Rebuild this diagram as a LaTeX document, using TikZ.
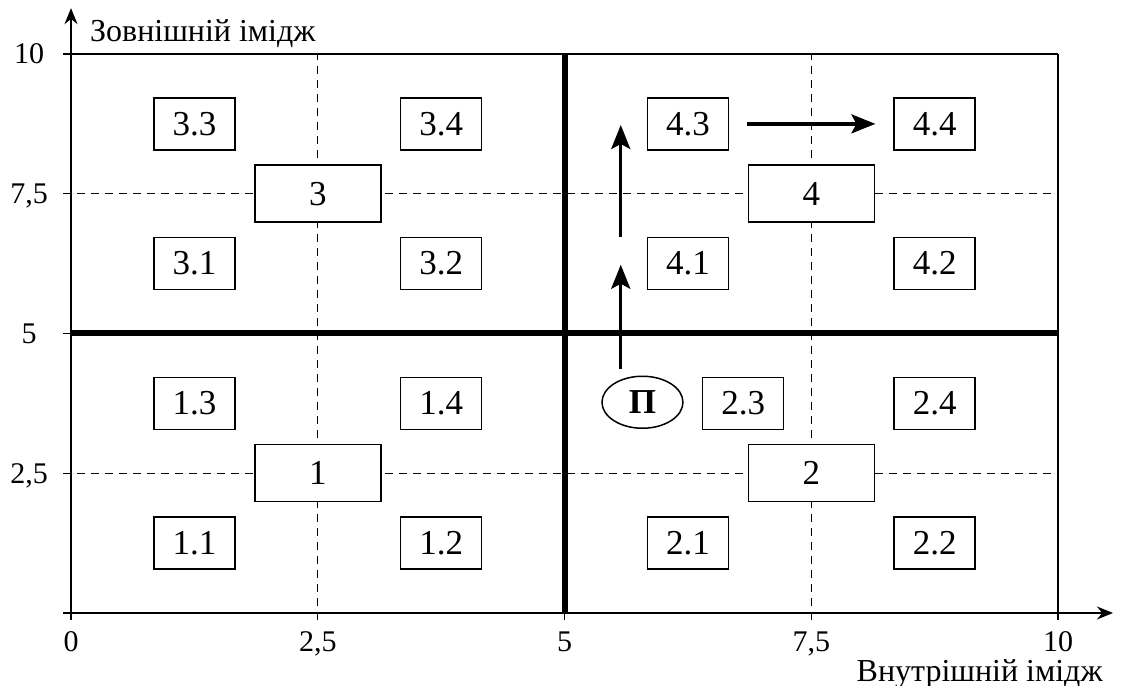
\documentclass[tikz,border=0pt]{standalone}
\usepackage{fontspec}
\setmainfont{Liberation Serif}
\usetikzlibrary{arrows.meta,shapes.geometric}
\begin{document}
\begin{tikzpicture}[x=49.35pt,y=27.95pt,
 cell/.style={draw,line width=0.75pt,minimum width=40.5pt,minimum height=26pt,inner sep=0pt,font=\fontsize{17.5}{17.5}\selectfont,fill=white},
 bigcell/.style={cell,minimum width=63pt,minimum height=28.5pt},
 gridline/.style={line width=0.55pt,dash pattern=on 4pt off 3pt},
 heavy/.style={line width=3pt},
 axisline/.style={line width=0.8pt},
 ticklabel/.style={font=\fontsize{15}{15}\selectfont,inner sep=0pt,anchor=base},
 axistitle/.style={font=\fontsize{16}{16}\selectfont,inner sep=0pt},
 flow/.style={line width=1.7pt,-{Stealth[length=12pt,width=9.5pt,inset=2.5pt]}}]
\useasboundingbox (-0.7194,-1.3059) rectangle (10.6586,10.966);
% grid
\draw[gridline] (2.5,-0.125) -- (2.5,10);
\draw[gridline] (7.5,-0.125) -- (7.5,10);
\draw[gridline] (-0.081,2.5) -- (10,2.5);
\draw[gridline] (-0.081,7.5) -- (10,7.5);
% frame and axes
\draw[axisline,-{Stealth[length=8pt,width=6.5pt]}] (-0.081,0) -- (10.557,0);
\draw[axisline,-{Stealth[length=8pt,width=6.5pt]}] (0,-0.125) -- (0,10.82);
\draw[axisline] (-0.081,10) -- (10,10);
\draw[axisline] (10,-0.125) -- (10,10);
\draw[axisline] (-0.081,5) -- (0,5);
\draw[axisline] (5,-0.125) -- (5,0);
\draw[heavy] (5,0) -- (5,10);
\draw[heavy] (0,5) -- (10,5);
% tick labels
\node[ticklabel] (x0) at (0,-0.68) {0};
\node[ticklabel] (x25) at (2.5,-0.68) {2,5};
\node[ticklabel] (x5) at (5,-0.68) {5};
\node[ticklabel] (x75) at (7.5,-0.68) {7,5};
\node[ticklabel] (x10) at (10,-0.68) {10};
\node[ticklabel] (y25) at (-0.425,2.323) {2,5};
\node[ticklabel] (y5) at (-0.425,4.823) {5};
\node[ticklabel] (y75) at (-0.425,7.323) {7,5};
\node[ticklabel] (y10) at (-0.425,9.823) {10};
\node[axistitle,anchor=base west] (ytitle) at (0.19,10.22) {Зовнішній імідж};
\node[axistitle,anchor=base east] (xtitle) at (10.456,-1.22) {Внутрішній імідж};
% cells
\node[cell] (c33) at (1.25,8.75) {3.3};
\node[cell] (c34) at (3.75,8.75) {3.4};
\node[cell] (c43) at (6.25,8.75) {4.3};
\node[cell] (c44) at (8.75,8.75) {4.4};
\node[cell] (c31) at (1.25,6.25) {3.1};
\node[cell] (c32) at (3.75,6.25) {3.2};
\node[cell] (c41) at (6.25,6.25) {4.1};
\node[cell] (c42) at (8.75,6.25) {4.2};
\node[cell] (c13) at (1.25,3.75) {1.3};
\node[cell] (c14) at (3.75,3.75) {1.4};
\node[cell] (c23) at (6.81,3.75) {2.3};
\node[cell] (c24) at (8.75,3.75) {2.4};
\node[cell] (c11) at (1.25,1.25) {1.1};
\node[cell] (c12) at (3.75,1.25) {1.2};
\node[cell] (c21) at (6.25,1.25) {2.1};
\node[cell] (c22) at (8.75,1.25) {2.2};
\node[bigcell] (b1) at (2.5,2.5) {1};
\node[bigcell] (b2) at (7.5,2.5) {2};
\node[bigcell] (b3) at (2.5,7.5) {3};
\node[bigcell] (b4) at (7.5,7.5) {4};
\node[cell,ellipse] (P) at (5.79,3.77) {\textbf{П}};
% arrows
\coordinate (a1s) at (5.57,4.36);
\coordinate (a1e) at (5.57,6.23);
\coordinate (a2s) at (5.57,6.73);
\coordinate (a2e) at (5.57,8.73);
\coordinate (a3s) at (6.85,8.75);
\coordinate (a3e) at (8.15,8.75);
\draw[flow] (a1s) -- (a1e);
\draw[flow] (a2s) -- (a2e);
\draw[flow] (a3s) -- (a3e);
\end{tikzpicture}
\end{document}
